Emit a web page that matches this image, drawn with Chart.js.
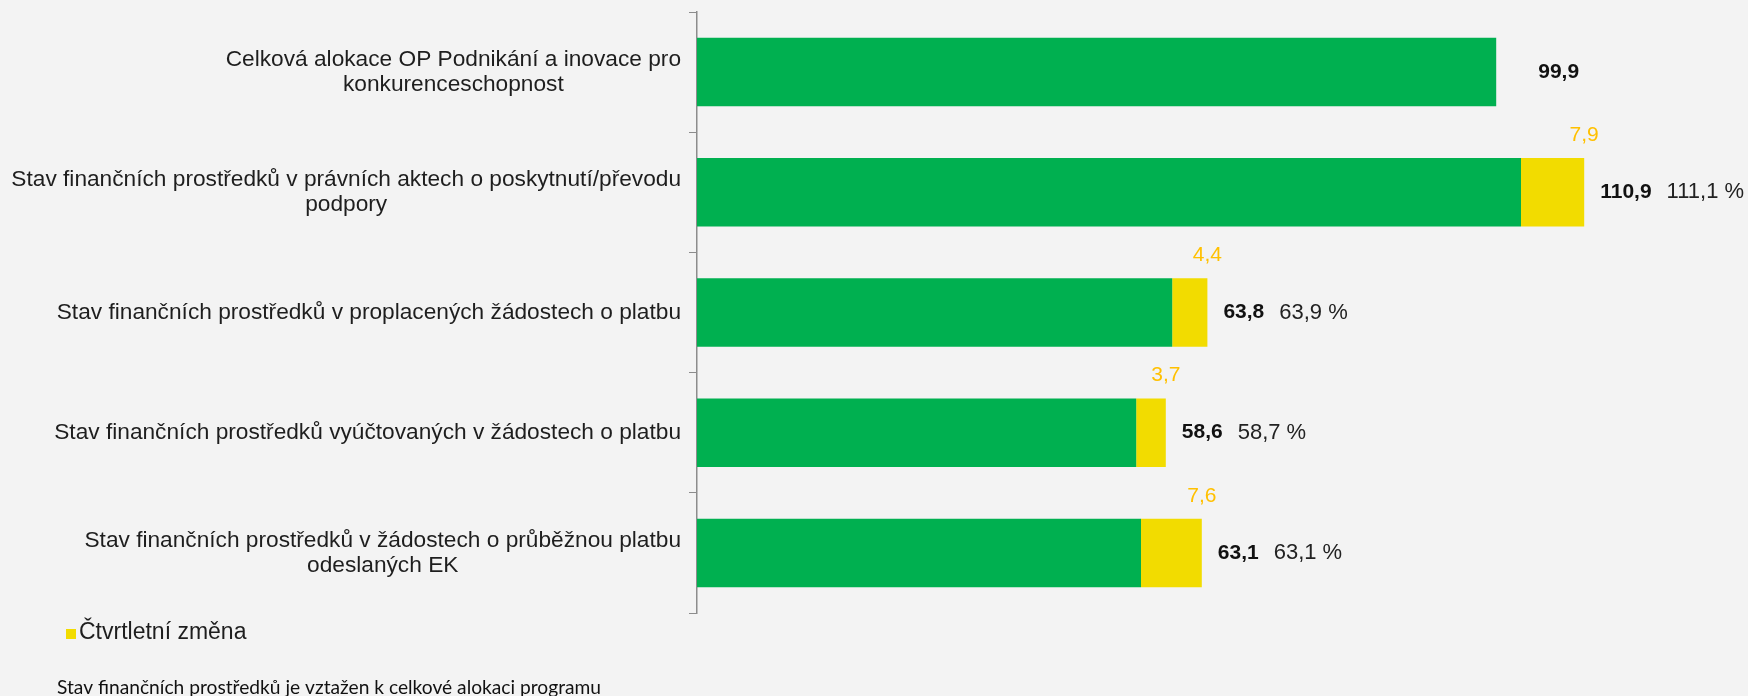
<!DOCTYPE html>
<html>
<head>
<meta charset="utf-8">
<script src="https://cdn.jsdelivr.net/npm/chart.js@4/dist/chart.umd.min.js"></script>
<style>
  html, body { margin: 0; padding: 0; background: #f3f3f3; }
  canvas { display: block; }
</style>
</head>
<body>
<canvas id="chart" width="1748" height="696"></canvas>
<script>
// categories (multi-line labels)
const categories = [
  ['Celková alokace OP Podnikání a inovace pro', 'konkurenceschopnost'],
  ['Stav finančních prostředků v právních aktech o poskytnutí/převodu', 'podpory'],
  ['Stav finančních prostředků v proplacených žádostech o platbu'],
  ['Stav finančních prostředků vyúčtovaných v žádostech o platbu'],
  ['Stav finančních prostředků v žádostech o průběžnou platbu', 'odeslaných EK'],
];
// previous state (green) and quarterly change (yellow), bn CZK
const previousValues = [99.9, 103.0, 59.4, 54.9, 55.5];
const quarterChange = [0, 7.9, 4.4, 3.7, 7.6];
// labels shown next to the bars
const totalValues = [99.9, 110.9, 63.8, 58.6, 63.1];
const shareOfAllocation = [null, 111.1, 63.9, 58.7, 63.1];

const legendLabel = 'Čtvrtletní změna';
const footnote = 'Stav finančních prostředků je vztažen k celkové alokaci programu';

const GREEN = '#00b050';
const YELLOW = '#f2dc00';
const ORANGE = '#ffc000';
const AXIS = '#8c8c8c';
const FONT = '"Liberation Sans", Arial, sans-serif';

const fmt = (v) => v.toFixed(1).replace('.', ',');

const drawLabels = {
  id: 'drawLabels',
  beforeDraw(chart) {
    const ctx = chart.ctx;
    ctx.save();
    ctx.fillStyle = '#f3f3f3';
    ctx.fillRect(0, 0, chart.width, chart.height);
    ctx.restore();
  },
  afterDatasetsDraw(chart) {
    const ctx = chart.ctx;
    const y = chart.scales.y;
    const top = chart.getDatasetMeta(1);
    ctx.save();
    ctx.textBaseline = 'middle';

    // category labels: block right aligned to the axis, lines centred
    ctx.font = '22.7px ' + FONT;
    ctx.fillStyle = '#1e1e1e';
    ctx.textAlign = 'center';
    categories.forEach((lines, i) => {
      const cy = y.getPixelForValue(i);
      const w = Math.max(...lines.map((l) => ctx.measureText(l).width));
      const cx = y.right - 16 - w / 2;
      lines.forEach((l, j) => {
        ctx.fillText(l, cx, cy + (j - (lines.length - 1) / 2) * 25);
      });
    });

    // value labels
    ctx.textAlign = 'left';
    totalValues.forEach((t, i) => {
      const bar = top.data[i];
      const cy = bar.y;
      const ex = bar.x;
      const gap = quarterChange[i] > 0 ? 16 : 42;
      ctx.font = 'bold 21px ' + FONT;
      ctx.fillStyle = '#111';
      const s = fmt(t);
      ctx.fillText(s, ex + gap, cy);
      const w = ctx.measureText(s).width;
      if (shareOfAllocation[i] !== null) {
        ctx.font = '22px ' + FONT;
        ctx.fillStyle = '#222';
        ctx.fillText(fmt(shareOfAllocation[i]) + ' %', ex + gap + w + 15, cy);
      }
      if (quarterChange[i] > 0) {
        ctx.font = '21px ' + FONT;
        ctx.fillStyle = ORANGE;
        ctx.textAlign = 'center';
        ctx.fillText(fmt(quarterChange[i]), ex, cy - 57);
        ctx.textAlign = 'left';
      }
    });

    // legend
    ctx.fillStyle = YELLOW;
    ctx.fillRect(66, 629, 10, 10);
    ctx.font = '23px ' + FONT;
    ctx.fillStyle = '#1e1e1e';
    ctx.fillText(legendLabel, 79, 633);

    // footnote
    ctx.textBaseline = 'alphabetic';
    ctx.font = '19.2px Lato, sans-serif';
    ctx.fillStyle = '#111';
    ctx.fillText(footnote, 57, 694);
    ctx.restore();
  }
};

new Chart(document.getElementById('chart'), {
  type: 'bar',
  data: {
    labels: categories,
    datasets: [
      {
        label: 'Stav',
        data: previousValues,
        backgroundColor: GREEN,
        barPercentage: 0.57,
        categoryPercentage: 1,
      },
      {
        label: legendLabel,
        data: quarterChange,
        backgroundColor: YELLOW,
        barPercentage: 0.57,
        categoryPercentage: 1,
      },
    ],
  },
  options: {
    indexAxis: 'y',
    responsive: false,
    animation: false,
    devicePixelRatio: 1,
    layout: { padding: { top: 12, bottom: 83, left: 0, right: 11 } },
    scales: {
      x: {
        stacked: true,
        min: 0,
        max: 130,
        display: false,
      },
      y: {
        stacked: true,
        afterFit: (scale) => { scale.width = 697; },
        grid: {
          drawOnChartArea: false,
          color: AXIS,
          tickLength: 8,
        },
        border: { display: true, color: AXIS, width: 1.5 },
        ticks: { display: false },
      },
    },
    plugins: {
      legend: { display: false },
      tooltip: { enabled: false },
    },
  },
  plugins: [drawLabels],
});
</script>
</body>
</html>
